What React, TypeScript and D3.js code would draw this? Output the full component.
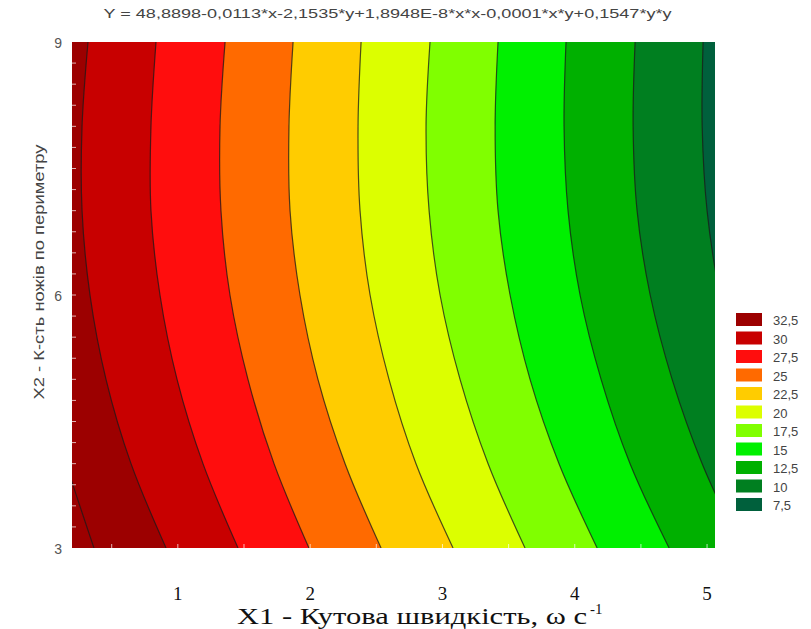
import React from "react";
import * as d3 from "d3";

// y-values (X2) at which the contour positions were read
const ySamples = [9, 8, 7, 6, 5, 4, 3];
// contour levels, highest (left) to lowest (right)
const contourLevels = [35, 32.5, 30, 27.5, 25, 22.5, 20, 17.5, 15, 12.5, 10];
// X1 position of each contour at the ySamples
const c35 = [-0.2, -0.25, -0.25, -0.2, -0.04, 0.155, 0.366];
const c325 = [0.321, 0.276, 0.276, 0.336, 0.457, 0.646, 0.911];
const c30 = [0.835, 0.797, 0.797, 0.865, 0.994, 1.19, 1.455];
const c275 = [1.357, 1.319, 1.326, 1.394, 1.53, 1.727, 1.991];
const c25 = [1.871, 1.84, 1.848, 1.923, 2.059, 2.264, 2.536];
const c225 = [2.385, 2.362, 2.377, 2.453, 2.596, 2.8, 3.08];
const c20 = [2.906, 2.876, 2.899, 2.982, 3.133, 3.345, 3.624];
const c175 = [3.42, 3.398, 3.42, 3.511, 3.662, 3.881, 4.169];
const c15 = [3.934, 3.919, 3.949, 4.04, 4.199, 4.418, 4.713];
const c125 = [4.456, 4.441, 4.471, 4.57, 4.736, 4.963, 5.258];
const c10 = [4.97, 4.963, 5.0, 5.098, 5.264, 5.491, 5.779];
const contourX = [c35, c325, c30, c275, c25, c225, c20, c175, c15, c125, c10];

const legendLabels = ["32,5", "30", "27,5", "25", "22,5", "20", "17,5", "15", "12,5", "10", "7,5"];
const legendColors = [
  "#9c0000", "#c80000", "#ff0d0d", "#ff6a00", "#ffcc00", "#dcff00",
  "#80ff00", "#00f000", "#00b000", "#007f20", "#00603c",
];
const levelColor: Record<string, string> = {
  "35": "#9c0000", "32.5": "#9c0000", "30": "#c80000", "27.5": "#ff0d0d", "25": "#ff6a00",
  "22.5": "#ffcc00", "20": "#dcff00", "17.5": "#80ff00", "15": "#00f000",
  "12.5": "#00b000", "10": "#007f20",
};
const lowColor = "#00603c";

const xTicks = [1, 2, 3, 4, 5];
const yTicks = [9, 6, 3];
const titleText = "Y = 48,8898-0,0113*x-2,1535*y+1,8948E-8*x*x-0,0001*x*y+0,1547*y*y";

export default function App() {
  const W = 811, H = 629;
  const xs = d3.scaleLinear().domain([0.2, 5.06]).range([72, 715]);
  const ys = d3.scaleLinear().domain([3, 9]).range([548, 42]);
  const [x0, x1] = xs.range();
  const [yb, yt] = ys.range();

  const curve = d3.curveCatmullRom.alpha(0.5);
  const area = d3
    .area<{ x: number; y: number }>()
    .y((d) => ys(d.y))
    .x0(xs(-3))
    .x1((d) => xs(d.x))
    .curve(curve);
  const line = d3
    .line<{ x: number; y: number }>()
    .x((d) => xs(d.x))
    .y((d) => ys(d.y))
    .curve(curve);

  const contours = contourLevels.map((lv, i) => ({
    level: lv,
    pts: ySamples.map((y, j) => ({ y, x: contourX[i][j] })),
  }));
  const paintOrder = contours.slice().reverse();

  const leftMinor = d3.range(3.25, 9, 0.25);
  const bottomMinor = d3.range(0.5, 5.01, 0.5);

  return (
    <svg
      width={W}
      height={H}
      style={{ position: "absolute", left: 0, top: 0, background: "#fff" }}
    >
      <defs>
        <clipPath id="plotClip">
          <rect x={x0} y={yt} width={x1 - x0} height={yb - yt} />
        </clipPath>
      </defs>
      <text
        x={(103 + 672) / 2}
        y={18}
        textAnchor="middle"
        fontFamily="Liberation Sans, Arial, sans-serif"
        fontSize={13}
        fill="#444"
        textLength={568}
        lengthAdjust="spacingAndGlyphs"
      >
        {titleText}
      </text>
      <g clipPath="url(#plotClip)">
        <rect x={x0} y={yt} width={x1 - x0} height={yb - yt} fill={lowColor} />
        {paintOrder.map((c) => (
          <path key={"a" + c.level} d={area(c.pts) || ""} fill={levelColor[String(c.level)]} />
        ))}
        {contours.map((c) => (
          <path
            key={"l" + c.level}
            d={line(c.pts) || ""}
            fill="none"
            stroke="#1a1a1a"
            strokeOpacity={0.75}
            strokeWidth={1.2}
          />
        ))}
        {leftMinor.map((v) => (
          <line key={"lm" + v} x1={x0} x2={x0 + 4} y1={ys(v)} y2={ys(v)} stroke="#fff" strokeOpacity={0.7} />
        ))}
        {bottomMinor.map((v) => (
          <line key={"bm" + v} x1={xs(v)} x2={xs(v)} y1={yb} y2={yb - 4} stroke="#fff" strokeOpacity={0.7} />
        ))}
      </g>
      {yTicks.map((t) => (
        <text
          key={"yt" + t}
          x={62}
          y={ys(t) + 6}
          textAnchor="end"
          fontFamily="Liberation Sans, Arial, sans-serif"
          fontSize={14}
          fill="#555"
        >
          {t}
        </text>
      ))}
      <text
        transform={`translate(44, 272) rotate(-90)`}
        textAnchor="middle"
        fontFamily="Liberation Sans, Arial, sans-serif"
        fontSize={14}
        fill="#444"
        textLength={255}
        lengthAdjust="spacingAndGlyphs"
      >
        X2 - К-сть ножів по периметру
      </text>
      {xTicks.map((t) => (
        <text
          key={"xt" + t}
          x={xs(t)}
          y={600}
          textAnchor="middle"
          fontFamily="Liberation Serif, Times New Roman, serif"
          fontSize={19}
          fill="#111"
        >
          {t}
        </text>
      ))}
      <text
        x={237}
        y={624}
        textAnchor="start"
        fontFamily="Liberation Serif, Times New Roman, serif"
        fontSize={23}
        fill="#111"
        textLength={350}
        lengthAdjust="spacingAndGlyphs"
      >
        X1 - Кутова швидкість, ω  c
      </text>
      <text
        x={590}
        y={614}
        textAnchor="start"
        fontFamily="Liberation Serif, Times New Roman, serif"
        fontSize={15}
        fill="#111"
      >
        -1
      </text>
      {legendLabels.map((lab, i) => (
        <g key={"lg" + lab}>
          <rect x={736} y={313 + i * 18.5} width={26} height={13} fill={legendColors[i]} />
          <text
            x={773}
            y={313 + i * 18.5 + 12}
            fontFamily="Liberation Sans, Arial, sans-serif"
            fontSize={13}
            fill="#444"
          >
            {lab}
          </text>
        </g>
      ))}
    </svg>
  );
}
